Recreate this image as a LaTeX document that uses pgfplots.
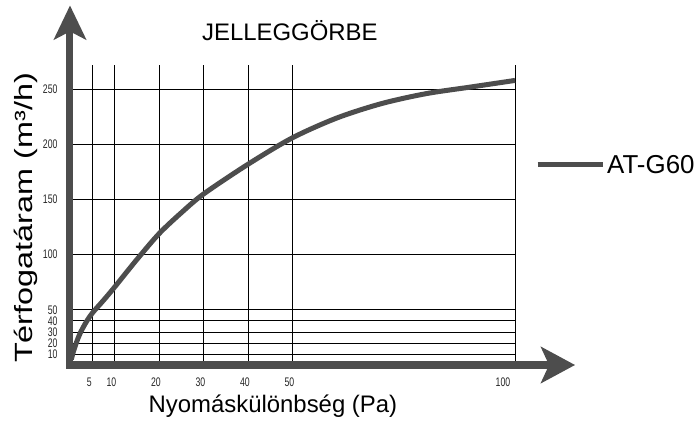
\documentclass[border=0pt]{standalone}
\usepackage{fontspec}
\setmainfont{Liberation Sans}
\newfontfamily\tickfont[FakeStretch=0.7]{Liberation Sans}
\newfontfamily\ylabfont[FakeStretch=1.3]{Liberation Sans}
\usepackage{pgfplots}
\pgfplotsset{compat=1.18}
\usetikzlibrary{arrows.meta}
\definecolor{axgray}{HTML}{4D4D4D}

\begin{document}
\begin{tikzpicture}
\begin{axis}[name=ax, scale only axis, width=445bp, height=300bp,
  xmin=0, xmax=100, ymin=0, ymax=272,
  axis line style={draw=none}, clip=false,
  xtick={5,10,20,30,40,50},
  extra x ticks={100},
  extra x tick style={grid=major, xticklabel style={xshift=-9bp}},
  ytick={10,20,30,40,50,100,150,200,250},
  grid=major, major grid style={black, line width=0.8bp},
  major tick length=0pt,
  tick label style={font=\tickfont\fontsize{12.5}{12.5}\selectfont, text=black!85},
  xticklabel style={yshift=-9bp, xshift=-3bp},
  yticklabel style={xshift=-9bp},
  /pgf/number format/assume math mode=true,
  legend cell align=left,
  legend style={at={(1.045,0.667)}, anchor=west, draw=none, fill=none, inner sep=0pt, font=\fontsize{26}{26}\selectfont},
  legend image code/.code={\draw[#1] (0bp,0bp) -- (65bp,0bp);},
]
\addplot[axgray, line width=5bp, smooth, tension=0.5] coordinates {
 (0.3,5) (0.75,12) (1.5,21) (2.25,28.5) (3.5,38) (5,47) (7.5,58.5) (10,70.5)
 (15,95.5) (20,119) (25,138) (30,155) (40,182) (50,206)
 (60,224) (70,237) (80,246) (90,252) (100,258)
};
\addlegendentry{AT-G60}
\draw[axgray, line width=7bp, -{Stealth[length=34bp,width=32bp,inset=8bp]}] (axis cs:0,-3.2) -- (axis cs:0,326);
\draw[axgray, line width=7bp, -{Stealth[length=34bp,width=36bp,inset=8bp]}] (axis cs:-0.8,0) -- (axis cs:113.5,0);
\node[font=\fontsize{24}{24}\selectfont, anchor=base] at (rel axis cs:0.494,1.083) {JELLEGGÖRBE};
\node[font=\fontsize{24}{24}\selectfont, anchor=base] at (rel axis cs:0.456,-0.157) {Nyomáskülönbség (Pa)};
\node[font=\ylabfont\fontsize{25}{25}\selectfont, rotate=90, anchor=base] at (rel axis cs:-0.085,0.49) {Térfogatáram (m³/h)};
\end{axis}
\path[use as bounding box] ([shift={(-70bp,-54bp)}]ax.south west) rectangle ([shift={(628bp,365bp)}]ax.south west);
\end{tikzpicture}
\end{document}
